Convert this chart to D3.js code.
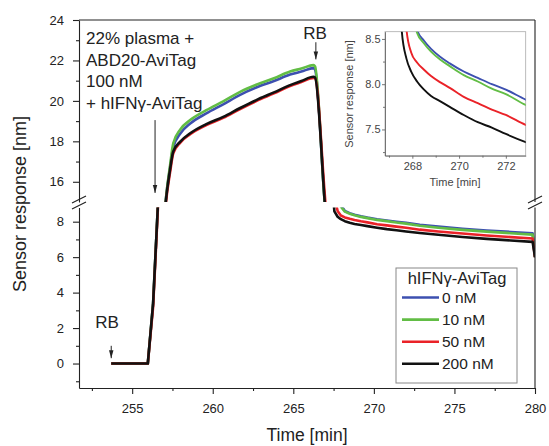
<!DOCTYPE html>
<html>
<head>
<meta charset="utf-8">
<script src="https://cdn.jsdelivr.net/npm/d3@7"></script>
<style>
  body { margin: 0; background: #fff; }
  svg text { font-family: "Liberation Sans", Arial, sans-serif; }
</style>
</head>
<body>
<div id="chart"></div>
<script>
// time axis shared by all four traces [min]
const time = [253.7, 255.97, 256.3, 256.6, 257.1, 257.35, 257.55, 258.0, 258.6, 259.6,
  260.65, 261.7, 262.7, 263.8, 264.8, 265.5, 266.25, 266.35, 266.95,
  267.55, 267.75, 267.95, 268.2, 268.5, 268.8, 269.2, 269.6, 270.2, 270.8, 271.4, 272.0, 272.85,
  274, 275.5, 277, 278.5, 279.85, 280.0];

// sensor response [nm] per hIFNg-AviTag concentration
const nM0 = [0, 0, 3.4, 9.0, 15.2, 16.7, 17.7, 18.4, 18.88, 19.38,
  19.83, 20.3, 20.66, 20.98, 21.3, 21.45, 21.62, 21.55, 15.0,
  11.2, 9.6, 8.95, 8.6, 8.48, 8.39, 8.3, 8.23, 8.14, 8.07, 8.0, 7.94, 7.83,
  7.72, 7.60, 7.5, 7.42, 7.35, 6.0];
const nM10 = [0, 0, 3.4, 9.0, 15.2, 16.8, 17.9, 18.6, 19.05, 19.54,
  19.98, 20.45, 20.8, 21.12, 21.45, 21.6, 21.77, 21.7, 15.0,
  11.0, 9.4, 8.85, 8.57, 8.45, 8.36, 8.27, 8.2, 8.10, 8.03, 7.95, 7.89, 7.77,
  7.66, 7.54, 7.44, 7.35, 7.27, 6.0];
const nM50 = [0, 0, 3.2, 8.8, 15.0, 16.45, 17.4, 17.95, 18.35, 18.8,
  19.16, 19.6, 19.99, 20.37, 20.73, 20.93, 21.14, 21.12, 15.4,
  9.4, 8.6, 8.35, 8.24, 8.16, 8.09, 8.02, 7.96, 7.86, 7.79, 7.72, 7.66, 7.55,
  7.45, 7.33, 7.22, 7.13, 7.05, 6.0];
const nM200 = [0, 0, 3.4, 9.0, 15.1, 16.6, 17.5, 18.0, 18.4, 18.85,
  19.21, 19.65, 20.04, 20.42, 20.78, 20.98, 21.19, 21.15, 15.0,
  8.58, 8.28, 8.14, 8.03, 7.94, 7.87, 7.81, 7.75, 7.66, 7.58, 7.52, 7.45, 7.36,
  7.26, 7.14, 7.03, 6.94, 6.86, 6.0];

const seriesNames = ["0 nM", "10 nM", "50 nM", "200 nM"];
const seriesValues = [nM0, nM10, nM50, nM200];
const seriesColors = ["#3d50b0", "#62bd45", "#ea2228", "#111111"];

const xTicks = [255, 260, 265, 270, 275, 280];
const xMinor = [252.5, 257.5, 262.5, 267.5, 272.5, 277.5];
const yTopTicks = [16, 18, 20, 22, 24];
const yTopMinor = [17, 19, 21, 23];
const yBotTicks = [0, 2, 4, 6, 8];
const yBotMinor = [-1, 1, 3, 5, 7];
const insetXTicks = [268, 270, 272];
const insetXMinor = [267, 269, 271];
const insetYTicks = [7.5, 8.0, 8.5];
const insetYMinor = [7.25, 7.75, 8.25];

const width = 549, height = 446;
const axisColor = "#222";

const svg = d3.select("#chart").append("svg")
  .attr("width", width)
  .attr("height", height);

const defs = svg.append("defs");
defs.append("marker")
  .attr("id", "arr")
  .attr("viewBox", "0 0 10 10")
  .attr("refX", 10).attr("refY", 5)
  .attr("markerWidth", 8).attr("markerHeight", 8)
  .attr("markerUnits", "userSpaceOnUse")
  .attr("orient", "auto")
  .append("path").attr("d", "M0,2.2L10,5L0,7.8z").attr("fill", axisColor);

// scales: one x, broken y (upper / lower panel)
const x = d3.scaleLinear().domain([251.7, 280]).range([79, 535]);
const yTop = d3.scaleLinear().domain([15, 24]).range([202, 20]);
const yBot = d3.scaleLinear().domain([-1.38, 8.8]).range([388, 207.5]);

defs.append("clipPath").attr("id", "clipTop").append("rect")
  .attr("x", 79).attr("y", 20).attr("width", 456).attr("height", 182);
defs.append("clipPath").attr("id", "clipBot").append("rect")
  .attr("x", 79).attr("y", 207.5).attr("width", 456).attr("height", 180.5);

const data = seriesValues.map((vals, i) => ({
  name: seriesNames[i],
  color: seriesColors[i],
  points: time.map((t, j) => ({ t: t, v: vals[j] }))
}));

// upper panel is smooth, lower one keeps sharp corners of the baseline step
const lineTop = d3.line().x(d => x(d.t)).y(d => yTop(d.v)).curve(d3.curveMonotoneX);
const lineBot = d3.line().x(d => x(d.t)).y(d => yBot(d.v));

svg.append("g").attr("clip-path", "url(#clipTop)")
  .selectAll("path").data(data).join("path")
  .attr("d", d => lineTop(d.points.filter(p => p.t >= 256.3 && p.t <= 267.55)))
  .attr("fill", "none").attr("stroke", d => d.color)
  .attr("stroke-width", 2.6).attr("stroke-linejoin", "round");

svg.append("g").attr("clip-path", "url(#clipBot)")
  .selectAll("path").data(data).join("path")
  .attr("d", d => lineBot(d.points))
  .attr("fill", "none").attr("stroke", d => d.color)
  .attr("stroke-width", 2.6).attr("stroke-linejoin", "round");

// axes
function styleAxis(g, fs) {
  g.selectAll("path,line").attr("stroke", axisColor).attr("stroke-width", 1.1);
  g.selectAll("text").attr("fill", axisColor).style("font-size", fs + "px");
}

svg.append("g").attr("transform", "translate(79,0)")
  .call(d3.axisLeft(yTop).tickValues(yTopTicks).tickSize(6).tickSizeOuter(0).tickPadding(9))
  .call(g => styleAxis(g, 13));
svg.append("g").attr("transform", "translate(79,0)")
  .call(d3.axisLeft(yTop).tickValues(yTopMinor).tickSize(3).tickFormat(""))
  .call(g => g.select(".domain").remove())
  .call(g => styleAxis(g, 13));
svg.append("g").attr("transform", "translate(79,0)")
  .call(d3.axisLeft(yBot).tickValues(yBotTicks).tickSize(6).tickSizeOuter(0).tickPadding(9))
  .call(g => styleAxis(g, 13));
svg.append("g").attr("transform", "translate(79,0)")
  .call(d3.axisLeft(yBot).tickValues(yBotMinor).tickSize(3).tickFormat(""))
  .call(g => g.select(".domain").remove())
  .call(g => styleAxis(g, 13));

svg.append("g").attr("transform", "translate(0,388)")
  .call(d3.axisBottom(x).tickValues(xTicks).tickSize(6).tickSizeOuter(0).tickPadding(10))
  .call(g => styleAxis(g, 13));
svg.append("g").attr("transform", "translate(0,388)")
  .call(d3.axisBottom(x).tickValues(xMinor).tickSize(3).tickFormat(""))
  .call(g => g.select(".domain").remove())
  .call(g => styleAxis(g, 13));

// frame top + right (right one broken too)
svg.append("line").attr("x1", 79).attr("x2", 535).attr("y1", 20).attr("y2", 20)
  .attr("stroke", axisColor).attr("stroke-width", 1.1);
svg.append("line").attr("x1", 535).attr("x2", 535).attr("y1", 20).attr("y2", yTop(15))
  .attr("stroke", axisColor).attr("stroke-width", 1.1);
svg.append("line").attr("x1", 535).attr("x2", 535).attr("y1", yBot(8.8)).attr("y2", 388)
  .attr("stroke", axisColor).attr("stroke-width", 1.1);

// break marks
[79, 535].forEach(bx => {
  [199.5, 205.5].forEach(by => {
    svg.append("line")
      .attr("x1", bx - 7).attr("y1", by + 3.5)
      .attr("x2", bx + 7).attr("y2", by - 3.5)
      .attr("stroke", axisColor).attr("stroke-width", 1.1);
  });
});

// axis titles
svg.append("text").attr("x", 307).attr("y", 441)
  .attr("text-anchor", "middle").style("font-size", "17.5px").attr("fill", axisColor)
  .text("Time [min]");
svg.append("text").attr("transform", "translate(26,204) rotate(-90)")
  .attr("text-anchor", "middle").style("font-size", "18px").attr("fill", axisColor)
  .text("Sensor response [nm]");

// annotations
const note = svg.append("text").style("font-size", "17px").attr("fill", axisColor);
["22% plasma +", "ABD20-AviTag", "100 nM", "+ hIFNγ-AviTag"].forEach((s, i) => {
  note.append("tspan").attr("x", 86).attr("y", 44 + i * 21.7).text(s);
});
svg.append("text").attr("x", 315).attr("y", 39).attr("text-anchor", "middle")
  .style("font-size", "17px").attr("fill", axisColor).text("RB");
svg.append("text").attr("x", 107).attr("y", 328).attr("text-anchor", "middle")
  .style("font-size", "17px").attr("fill", axisColor).text("RB");

const arrows = [
  { x1: x(256.42), y1: yTop(19.05), x2: x(256.42), y2: yTop(15.45) },
  { x1: x(266.4), y1: yTop(22.9), x2: x(266.4), y2: yTop(22.05) },
  { x1: x(253.7), y1: yBot(1.0), x2: x(253.7), y2: yBot(0.3) }
];
svg.selectAll(".arrow").data(arrows).join("line").attr("class", "arrow")
  .attr("x1", d => d.x1).attr("y1", d => d.y1)
  .attr("x2", d => d.x2).attr("y2", d => d.y2)
  .attr("stroke", axisColor).attr("stroke-width", 1)
  .attr("marker-end", "url(#arr)");

// inset
const xi = d3.scaleLinear().domain([266.83, 272.85]).range([385, 525.7]);
const yi = d3.scaleLinear().domain([7.21, 8.58]).range([155.7, 31.7]);
const insetColor = "#666";

defs.append("clipPath").attr("id", "clipInset").append("rect")
  .attr("x", 385).attr("y", 31.7).attr("width", 140.7).attr("height", 124);

svg.append("rect").attr("x", 385).attr("y", 31.7).attr("width", 140.7).attr("height", 124)
  .attr("fill", "#fff").attr("stroke", "#aaa").attr("stroke-width", 0.8);

const lineInset = d3.line().x(d => xi(d.t)).y(d => yi(d.v)).curve(d3.curveMonotoneX);
svg.append("g").attr("clip-path", "url(#clipInset)")
  .selectAll("path").data(data).join("path")
  .attr("d", d => lineInset(d.points.filter(p => p.t >= 266.9)))
  .attr("fill", "none").attr("stroke", d => d.color)
  .attr("stroke-width", 1.9);

function styleInset(g) {
  g.selectAll("path,line").attr("stroke", insetColor).attr("stroke-width", 0.9);
  g.selectAll("text").attr("fill", "#444").style("font-size", "11px");
}
svg.append("g").attr("transform", "translate(385,0)")
  .call(d3.axisLeft(yi).tickValues(insetYTicks).tickSize(3).tickSizeOuter(0).tickPadding(1.5).tickFormat(d3.format(".1f")))
  .call(styleInset);
svg.append("g").attr("transform", "translate(385,0)")
  .call(d3.axisLeft(yi).tickValues(insetYMinor).tickSize(2).tickFormat(""))
  .call(g => g.select(".domain").remove())
  .call(styleInset);
svg.append("g").attr("transform", "translate(0,155.7)")
  .call(d3.axisBottom(xi).tickValues(insetXTicks).tickSize(3).tickSizeOuter(0).tickPadding(3.5).tickFormat(d3.format("d")))
  .call(styleInset);
svg.append("g").attr("transform", "translate(0,155.7)")
  .call(d3.axisBottom(xi).tickValues(insetXMinor).tickSize(2).tickFormat(""))
  .call(g => g.select(".domain").remove())
  .call(styleInset);

svg.append("text").attr("x", 455).attr("y", 186).attr("text-anchor", "middle")
  .style("font-size", "11px").attr("fill", "#444").text("Time [min]");
svg.append("text").attr("transform", "translate(353,94) rotate(-90)")
  .attr("text-anchor", "middle").style("font-size", "11px").attr("fill", "#444")
  .text("Sensor response [nm]");

// legend
const legend = svg.append("g");
legend.append("rect").attr("x", 396).attr("y", 268).attr("width", 121).attr("height", 115)
  .attr("fill", "#fff").attr("stroke", "#888").attr("stroke-width", 1);
legend.append("text").attr("x", 457).attr("y", 284).attr("text-anchor", "middle")
  .style("font-size", "16.5px").attr("fill", axisColor).text("hIFNγ-AviTag");
const rows = legend.selectAll(".row").data(data).join("g").attr("class", "row")
  .attr("transform", (d, i) => `translate(0,${297.5 + i * 22.1})`);
rows.append("line").attr("x1", 402).attr("x2", 439).attr("y1", 0).attr("y2", 0)
  .attr("stroke", d => d.color).attr("stroke-width", 2.6);
rows.append("text").attr("x", 442).attr("dy", "0.36em")
  .style("font-size", "15.5px").attr("fill", axisColor).text(d => d.name);
</script>
</body>
</html>
